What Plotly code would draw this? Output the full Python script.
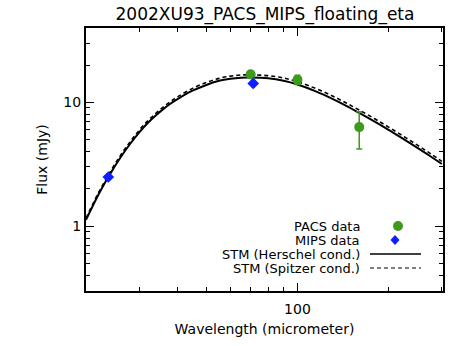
import plotly.graph_objects as go

# measured fluxes
pacs_wave = [70, 100, 160]
pacs_flux = [16.8, 15.2, 6.3]
pacs_err = [0.8, 1.3, 2.1]
mips_wave = [23.7, 71.4]
mips_flux = [2.49, 14.2]
mips_err = [0.12, 0.8]

# STM model curves
model_wave = [20, 22, 24, 26, 28, 30, 32, 34, 36, 38, 40, 45, 50, 55, 60, 65, 70, 80, 90, 100,
              115, 130, 145, 160, 180, 200, 225, 250, 275, 300]
herschel_flux = [1.12, 1.80, 2.62, 3.58, 4.62, 5.72, 6.80, 7.82, 8.80, 9.72, 10.55, 12.4, 13.8, 14.9, 15.5,
                 15.8, 15.85, 15.6, 14.9, 13.9, 12.25, 10.7, 9.35, 8.2, 6.96, 5.98, 5.01, 4.26, 3.66, 3.17]
spitzer_flux = [1.16, 1.86, 2.72, 3.72, 4.80, 5.96, 7.08, 8.13, 9.15, 10.1, 11.0, 12.95, 14.45, 15.6, 16.25,
                16.6, 16.65, 16.4, 15.7, 14.65, 12.9, 11.3, 9.85, 8.65, 7.35, 6.3, 5.28, 4.48, 3.85, 3.33]

green = '#3f9a1c'
blue = '#0b1fff'
font = 'DejaVu Sans'

fig = go.Figure()
fig.add_trace(go.Scatter(x=model_wave, y=herschel_flux, mode='lines', line=dict(color='black', width=2, shape='spline')))
fig.add_trace(go.Scatter(x=model_wave, y=spitzer_flux, mode='lines', line=dict(color='black', width=1.6, dash='4px,3px', shape='spline')))
fig.add_trace(go.Scatter(x=pacs_wave, y=pacs_flux, mode='markers', marker=dict(color=green, size=10, symbol='circle'),
                         error_y=dict(type='data', array=pacs_err, color=green, thickness=1.5, width=3)))
fig.add_trace(go.Scatter(x=mips_wave, y=mips_flux, mode='markers', marker=dict(color=blue, size=9, symbol='diamond'),
                         error_y=dict(type='data', array=mips_err, color=blue, thickness=1.5, width=2)))

W, H, L, R, T, B = 469, 346, 86, 26, 28, 55
def px(x):
    return (x - L) / (W - L - R)
def py(y):
    return (H - B - y) / (H - T - B)

# legend drawn by hand (text left of the symbol, IDL style)
labels = ['PACS data', 'MIPS data', 'STM (Herschel cond.)', 'STM (Spitzer cond.)']
rows = [226, 240, 254, 268]
for lab, yy in zip(labels, rows):
    fig.add_annotation(x=px(361), y=py(yy), xref='paper', yref='paper', text=lab, showarrow=False,
                       xanchor='right', yanchor='middle', borderpad=0,
                       font=dict(family=font, size=13, color='black'))
fig.add_shape(type='circle', xref='paper', yref='paper', x0=px(393), x1=px(403), y0=py(221), y1=py(231),
              fillcolor=green, line=dict(color=green, width=0))
fig.add_shape(type='path', xref='paper', yref='paper',
              path=f'M {px(395)} {py(235)} L {px(399.5)} {py(240)} L {px(395)} {py(245)} L {px(390.5)} {py(240)} Z',
              fillcolor=blue, line=dict(color=blue, width=0))
fig.add_shape(type='line', xref='paper', yref='paper', x0=px(370), x1=px(421), y0=py(254), y1=py(254),
              line=dict(color='black', width=1.6))
fig.add_shape(type='line', xref='paper', yref='paper', x0=px(370), x1=px(421), y0=py(268), y1=py(268),
              line=dict(color='black', width=1.2, dash='4px,3px'))

fig.update_layout(
    width=W, height=H, margin=dict(l=L, r=R, t=T, b=B),
    paper_bgcolor='white', plot_bgcolor='white', showlegend=False,
    font=dict(family=font, color='black', size=14),
    title=dict(text='2002XU93_PACS_MIPS_floating_eta', x=0.565, xanchor='center', y=1 - 14 / H, yanchor='middle',
               font=dict(family=font, size=17, color='black')),
)
fig.update_xaxes(type='log', range=[1.301, 2.481], showgrid=False, zeroline=False,
                 showline=True, linecolor='black', linewidth=2, mirror='ticks',
                 ticks='inside', ticklen=8, tickcolor='black', tickwidth=1,
                 tickvals=[100], ticktext=['100'], tickfont=dict(size=14), ticklabelstandoff=4,
                 minor=dict(ticks='inside', ticklen=4, tickcolor='black', tickwidth=1,
                            tickvals=[30, 40, 50, 60, 70, 80, 90, 200, 300]),
                 title=dict(text='Wavelength (micrometer)', font=dict(size=14), standoff=8))
fig.update_yaxes(type='log', range=[-0.525, 1.6], showgrid=False, zeroline=False,
                 showline=True, linecolor='black', linewidth=2, mirror='ticks',
                 ticks='inside', ticklen=8, tickcolor='black', tickwidth=1,
                 tickvals=[1, 10], ticktext=['1', '10'], tickfont=dict(size=14),
                 minor=dict(ticks='inside', ticklen=4, tickcolor='black', tickwidth=1,
                            tickvals=[0.3, 0.4, 0.5, 0.6, 0.7, 0.8, 0.9, 2, 3, 4, 5, 6, 7, 8, 9, 20, 30, 40]),
                 title=dict(text='Flux (mJy)', font=dict(size=14), standoff=12))

# drop the browser's default body margin so the figure sits at the window corner
fig.write_html('out.html', config={'displayModeBar': False},
               post_script="document.body.style.margin='0';")
